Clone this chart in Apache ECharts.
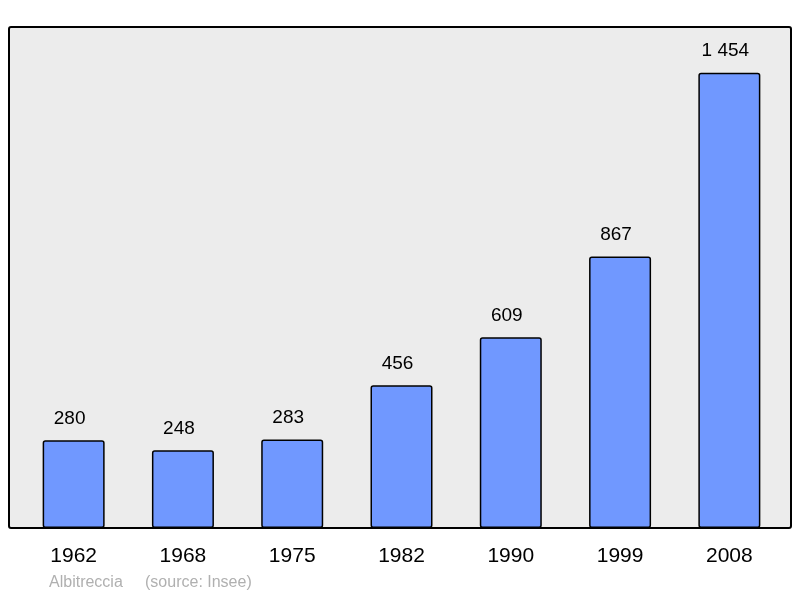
<!DOCTYPE html>
<html>
<head>
<meta charset="utf-8">
<script src="https://cdn.jsdelivr.net/npm/echarts@6/dist/echarts.min.js"></script>
<style>html,body{margin:0;padding:0;background:#fff}#chart{width:800px;height:598px}</style>
</head>
<body>
<div id="chart"></div>
<script>
const years = ['1962', '1968', '1975', '1982', '1990', '1999', '2008'];
const population = [280, 248, 283, 456, 609, 867, 1454];

const chart = echarts.init(document.getElementById('chart'));

// thousands separated by a space, like the source
const fmt = v => String(v).replace(/\B(?=(\d{3})+(?!\d))/g, ' ');

chart.setOption({
  animation: false,
  textStyle: { fontFamily: 'Liberation Sans, Arial, sans-serif' },
  graphic: [
    {
      type: 'rect', z: -10,
      shape: { x: 9, y: 27, width: 782, height: 501, r: 2 },
      style: { fill: '#ececec', stroke: '#000', lineWidth: 2 }
    },
    {
      type: 'text', left: 49, top: 575,
      style: { text: 'Albitreccia     (source: Insee)', fill: '#b0b0b0', fontSize: 16, fontFamily: 'Liberation Sans, Arial, sans-serif' }
    }
  ],
  grid: { left: 19, right: 16, top: 27, bottom: 70 },
  xAxis: {
    type: 'category',
    data: years,
    axisLine: { show: false },
    axisTick: { show: false },
    axisLabel: { color: '#000', fontSize: 21, margin: 18 }
  },
  yAxis: {
    type: 'value',
    min: 0,
    max: 1600,
    show: false,
    splitLine: { show: false }
  },
  series: [{
    type: 'bar',
    data: population,
    barWidth: 62,
    itemStyle: { color: '#7098ff', borderColor: '#000', borderWidth: 1.5, borderRadius: 2 },
    label: {
      show: true,
      position: 'top',
      distance: 12,
      offset: [-4, 0],
      color: '#000',
      fontSize: 19,
      formatter: p => fmt(p.value)
    }
  }]
});
</script>
</body>
</html>
